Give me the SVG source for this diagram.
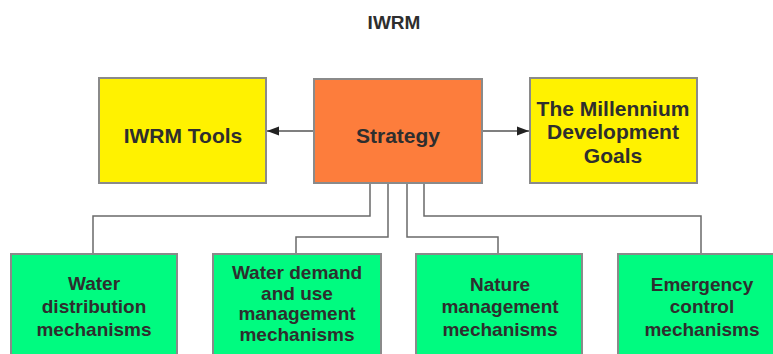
<svg xmlns="http://www.w3.org/2000/svg" width="773" height="354" viewBox="0 0 773 354">
<style>
.box{stroke:#8a8a8a;stroke-width:2}
.y{fill:#fff200}
.o{fill:#fd7d3c}
.g{fill:#00fb80}
text{font-family:"Liberation Sans",Arial,sans-serif;font-weight:bold;fill:#2e2e2e;text-anchor:middle}
.t{font-size:21px}
.s{font-size:19px}
.c{fill:none;stroke:#6a6a6a;stroke-width:1.5}
.a{fill:none;stroke:#555;stroke-width:1.5}
</style>
<defs>
<marker id="ah" viewBox="0 0 12 10" refX="12" refY="5" markerWidth="12" markerHeight="10" markerUnits="userSpaceOnUse" orient="auto">
<path d="M0,0.5 L12,5 L0,9.5 Z" fill="#222"/>
</marker>
</defs>
<rect width="773" height="354" fill="#fff"/>
<text x="394" y="29" style="font-size:19px">IWRM</text>
<g id="connectors">
<line class="a" x1="314" y1="131" x2="267" y2="131" marker-end="url(#ah)"/>
<line class="a" x1="482" y1="131" x2="529" y2="131" marker-end="url(#ah)"/>
<polyline class="c" points="370,183 370,216 93,216 93,254"/>
<polyline class="c" points="388,183 388,237 296,237 296,254"/>
<polyline class="c" points="407,183 407,237 498,237 498,254"/>
<polyline class="c" points="424,183 424,216 701,216 701,254"/>
</g>
<g id="tools">
<rect class="box y" x="99" y="78" width="167" height="105"/>
<text class="t" x="183" y="143">IWRM Tools</text>
</g>
<g id="strategy">
<rect class="box o" x="314" y="79" width="168" height="104"/>
<text class="t" x="398" y="143">Strategy</text>
</g>
<g id="mdg">
<rect class="box y" x="530" y="78" width="167" height="105"/>
<text class="t" x="613" y="116">The Millennium</text>
<text class="t" x="613" y="139">Development</text>
<text class="t" x="613" y="163">Goals</text>
</g>
<g id="water-distribution">
<rect class="box g" x="11" y="254" width="166" height="110"/>
<text class="s" x="94" y="290">Water</text>
<text class="s" x="94" y="313">distribution</text>
<text class="s" x="94" y="336">mechanisms</text>
</g>
<g id="water-demand">
<rect class="box g" x="213" y="254" width="168" height="110"/>
<text class="s" x="297" y="279">Water demand</text>
<text class="s" x="297" y="300">and use</text>
<text class="s" x="297" y="320">management</text>
<text class="s" x="297" y="341">mechanisms</text>
</g>
<g id="nature">
<rect class="box g" x="416" y="254" width="166" height="110"/>
<text class="s" x="500" y="291">Nature</text>
<text class="s" x="500" y="313">management</text>
<text class="s" x="500" y="336">mechanisms</text>
</g>
<g id="emergency">
<rect class="box g" x="618" y="254" width="166" height="110"/>
<text class="s" x="702" y="291">Emergency</text>
<text class="s" x="702" y="313">control</text>
<text class="s" x="702" y="336">mechanisms</text>
</g>
</svg>
